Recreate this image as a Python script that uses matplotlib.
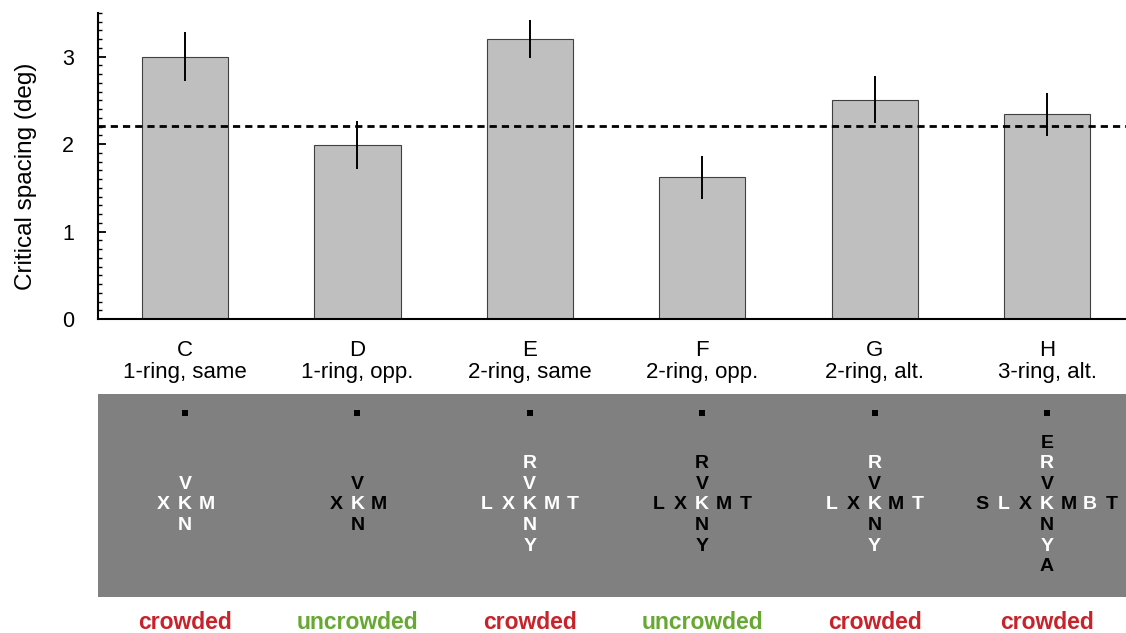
import numpy as np
import matplotlib
matplotlib.use("Agg")
import matplotlib.pyplot as plt
from matplotlib.ticker import MultipleLocator

# bar chart data
conditions = ["C", "D", "E", "F", "G", "H"]
descriptions = ["1-ring, same", "1-ring, opp.", "2-ring, same",
                "2-ring, opp.", "2-ring, alt.", "3-ring, alt."]
spacing = [3.00, 1.99, 3.20, 1.62, 2.51, 2.34]
spacing_err = [0.28, 0.27, 0.22, 0.25, 0.27, 0.25]
uncrowded_level = 2.21

# stimulus layouts (horizontal / vertical letter strings, w = white, k = black)
horiz = ["XKM", "XKM", "LXKMT", "LXKMT", "LXKMT", "SLXKMBT"]
vert = ["VKN", "VKN", "RVKNY", "RVKNY", "RVKNY", "ERVKNYA"]
horiz_col = ["www", "kwk", "wwwww", "kkwkk", "wkwkw", "kwkwkwk"]
vert_col = ["www", "kwk", "wwwww", "kkwkk", "wkwkw", "kwkwkwk"]
verdict = ["crowded", "uncrowded", "crowded", "uncrowded", "crowded", "crowded"]

verdict_colors = {"crowded": "#c8232b", "uncrowded": "#66a832"}
letter_colors = {"w": "white", "k": "black"}

plt.rcParams['font.family'] = ['Liberation Sans', 'DejaVu Sans']

fig = plt.figure(figsize=(11.26, 6.33), dpi=100)
x = np.arange(len(conditions))
xlim = (-0.505, 5.458)

# ---- bar chart ----
ax = fig.add_axes([0.087, 0.496, 0.913, 0.4835])
ax.bar(x, spacing, width=0.5, color="#bfbfbf", edgecolor="#404040", linewidth=0.8, zorder=2)
ax.errorbar(x, spacing, yerr=spacing_err, fmt="none", ecolor="black", elinewidth=1.4,
            capsize=0, zorder=3)
ax.axhline(uncrowded_level, color="black", linewidth=2, linestyle=(0, (2.6, 1.8)), zorder=4)

ax.set_xlim(*xlim)
ax.set_ylim(0, 3.5)
ax.yaxis.set_major_locator(MultipleLocator(1))
ax.yaxis.set_minor_locator(MultipleLocator(0.1))
ax.tick_params(axis="y", which="major", direction="in", length=6, width=1.3,
               labelsize=15.5, pad=17)
ax.tick_params(axis="y", which="minor", direction="in", length=3, width=1.0)
ax.set_xticks(x)
ax.set_xticklabels([f"{c}\n{d}" for c, d in zip(conditions, descriptions)],
                   fontsize=16, linespacing=1.1)
ax.tick_params(axis="x", length=0, pad=15)
ax.set_ylabel("Critical spacing (deg)", fontsize=17.5)
ax.yaxis.set_label_coords(-0.059, 0.467)
for s in ["top", "right"]:
    ax.spines[s].set_visible(False)
ax.spines["left"].set_linewidth(1.5)
ax.spines["bottom"].set_linewidth(1.5)

# ---- stimulus panel (y in pixel-like units, top = 394, bottom = 597) ----
pan = fig.add_axes([0.087, 0.0569, 0.913, 0.3207])
pan.set_facecolor("#808080")
pan.set_xlim(*xlim)
pan.set_ylim(597, 394)
pan.set_xticks([])
pan.set_yticks([])
for s in pan.spines.values():
    s.set_visible(False)

fix_y = 413
center_y = 505
dy = 20.6
dx = 0.125
pan.scatter(x, [fix_y] * len(x), marker="s", s=14, color="black", linewidths=0)
for i in range(len(conditions)):
    h, v = horiz[i], vert[i]
    for j, (ch, col) in enumerate(zip(h, horiz_col[i])):
        pan.text(x[i] + (j - len(h) // 2) * dx, center_y, ch, ha="center", va="center",
                 fontsize=14, fontweight="bold", color=letter_colors[col])
    for j, (ch, col) in enumerate(zip(v, vert_col[i])):
        if j == len(v) // 2:
            continue
        pan.text(x[i], center_y + (j - len(v) // 2) * dy, ch, ha="center", va="center",
                 fontsize=14, fontweight="bold", color=letter_colors[col])

# ---- verdict labels ----
for i, word in enumerate(verdict):
    fig.text(0.087 + 0.913 * (x[i] - xlim[0]) / (xlim[1] - xlim[0]), 1 - 629 / 633, word,
             ha="center", va="baseline", fontsize=16.5, fontweight="bold",
             color=verdict_colors[word])

fig.savefig("out.png", dpi=100)
